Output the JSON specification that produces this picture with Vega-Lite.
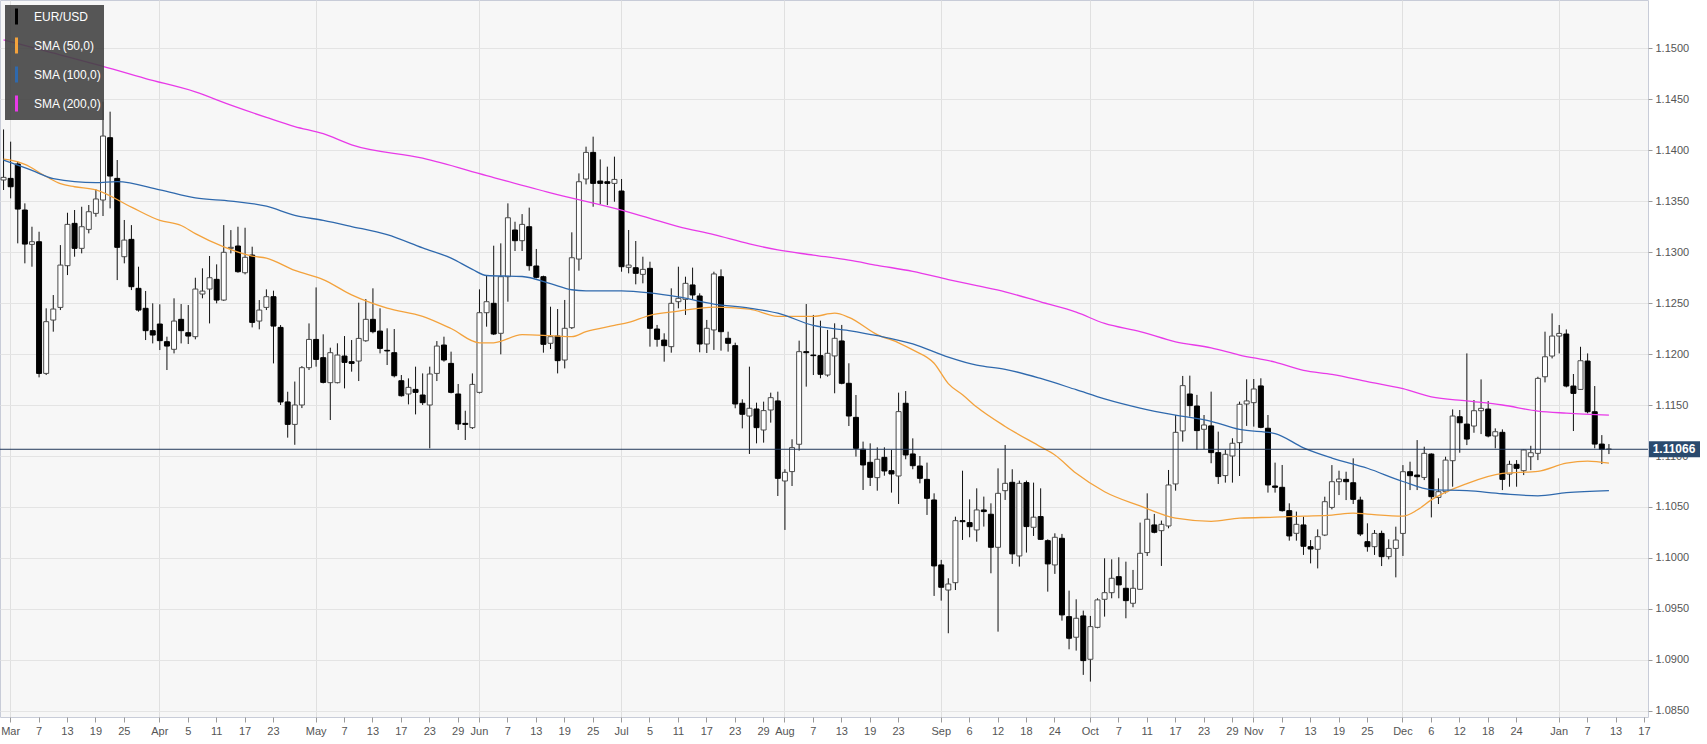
{
  "$schema": "https://vega.github.io/schema/vega-lite/v6.json",
  "width": 1648,
  "height": 717,
  "autosize": {"type": "none"},
  "padding": {"left": 0, "top": 0, "right": 59, "bottom": 27},
  "background": "#ffffff",
  "config": {
    "view": {"fill": "#f7f7f7", "stroke": "#c8ccd8", "strokeWidth": 1},
    "font": "Liberation Sans"
  },
  "datasets": {
    "candles": [
      {"d":"2019-02-28","o":1.13706,"h":1.14202,"l":1.13608,"c":1.13732},
      {"d":"2019-03-01","o":1.13722,"h":1.14082,"l":1.13526,"c":1.13640},
      {"d":"2019-03-04","o":1.13863,"h":1.13885,"l":1.13085,"c":1.13421},
      {"d":"2019-03-05","o":1.13412,"h":1.13477,"l":1.12889,"c":1.13078},
      {"d":"2019-03-06","o":1.13075,"h":1.13248,"l":1.12856,"c":1.13101},
      {"d":"2019-03-07","o":1.13101,"h":1.13199,"l":1.11771,"c":1.11810},
      {"d":"2019-03-08","o":1.11810,"h":1.12448,"l":1.11794,"c":1.12317},
      {"d":"2019-03-11","o":1.12333,"h":1.12578,"l":1.12219,"c":1.12441},
      {"d":"2019-03-12","o":1.12457,"h":1.13068,"l":1.12431,"c":1.12872},
      {"d":"2019-03-13","o":1.12866,"h":1.13385,"l":1.12774,"c":1.13271},
      {"d":"2019-03-14","o":1.13281,"h":1.13412,"l":1.12954,"c":1.13036},
      {"d":"2019-03-15","o":1.13036,"h":1.13444,"l":1.12987,"c":1.13248},
      {"d":"2019-03-18","o":1.13222,"h":1.13461,"l":1.13183,"c":1.13395},
      {"d":"2019-03-19","o":1.13379,"h":1.13614,"l":1.13346,"c":1.13520},
      {"d":"2019-03-20","o":1.13510,"h":1.14474,"l":1.13353,"c":1.14137},
      {"d":"2019-03-21","o":1.14121,"h":1.14376,"l":1.13428,"c":1.13745},
      {"d":"2019-03-22","o":1.13722,"h":1.13902,"l":1.12725,"c":1.13046},
      {"d":"2019-03-25","o":1.12954,"h":1.13314,"l":1.12889,"c":1.13117},
      {"d":"2019-03-26","o":1.13124,"h":1.13264,"l":1.12627,"c":1.12660},
      {"d":"2019-03-27","o":1.12644,"h":1.12856,"l":1.12415,"c":1.12431},
      {"d":"2019-03-28","o":1.12448,"h":1.12618,"l":1.12137,"c":1.12229},
      {"d":"2019-03-29","o":1.12229,"h":1.12497,"l":1.12104,"c":1.12186},
      {"d":"2019-04-01","o":1.12294,"h":1.12487,"l":1.12039,"c":1.12131},
      {"d":"2019-04-02","o":1.12121,"h":1.12170,"l":1.11843,"c":1.12078},
      {"d":"2019-04-03","o":1.12046,"h":1.12546,"l":1.12006,"c":1.12323},
      {"d":"2019-04-04","o":1.12340,"h":1.12490,"l":1.12104,"c":1.12229},
      {"d":"2019-04-05","o":1.12209,"h":1.12480,"l":1.12098,"c":1.12176},
      {"d":"2019-04-08","o":1.12170,"h":1.12748,"l":1.12144,"c":1.12637},
      {"d":"2019-04-09","o":1.12588,"h":1.12840,"l":1.12546,"c":1.12617},
      {"d":"2019-04-10","o":1.12637,"h":1.12961,"l":1.12300,"c":1.12748},
      {"d":"2019-04-11","o":1.12732,"h":1.12879,"l":1.12497,"c":1.12529},
      {"d":"2019-04-12","o":1.12529,"h":1.13264,"l":1.12520,"c":1.12997},
      {"d":"2019-04-15","o":1.13036,"h":1.13215,"l":1.12987,"c":1.13046},
      {"d":"2019-04-16","o":1.13059,"h":1.13248,"l":1.12797,"c":1.12807},
      {"d":"2019-04-17","o":1.12797,"h":1.13238,"l":1.12781,"c":1.12948},
      {"d":"2019-04-18","o":1.12970,"h":1.13052,"l":1.12261,"c":1.12310},
      {"d":"2019-04-19","o":1.12323,"h":1.12529,"l":1.12242,"c":1.12431},
      {"d":"2019-04-22","o":1.12457,"h":1.12634,"l":1.12431,"c":1.12562},
      {"d":"2019-04-23","o":1.12562,"h":1.12621,"l":1.11908,"c":1.12274},
      {"d":"2019-04-24","o":1.12261,"h":1.12284,"l":1.11500,"c":1.11530},
      {"d":"2019-04-25","o":1.11530,"h":1.11630,"l":1.11180,"c":1.11310},
      {"d":"2019-04-26","o":1.11310,"h":1.11730,"l":1.11110,"c":1.11500},
      {"d":"2019-04-29","o":1.11500,"h":1.11882,"l":1.11470,"c":1.11866},
      {"d":"2019-04-30","o":1.11866,"h":1.12300,"l":1.11843,"c":1.12143},
      {"d":"2019-05-01","o":1.12143,"h":1.12653,"l":1.11876,"c":1.11947},
      {"d":"2019-05-02","o":1.11964,"h":1.12193,"l":1.11712,"c":1.11722},
      {"d":"2019-05-03","o":1.11719,"h":1.12062,"l":1.11353,"c":1.12013},
      {"d":"2019-05-06","o":1.11719,"h":1.12105,"l":1.11712,"c":1.11990},
      {"d":"2019-05-07","o":1.11980,"h":1.12176,"l":1.11663,"c":1.11918},
      {"d":"2019-05-08","o":1.11925,"h":1.12137,"l":1.11827,"c":1.11908},
      {"d":"2019-05-09","o":1.11931,"h":1.12503,"l":1.11735,"c":1.12153},
      {"d":"2019-05-10","o":1.12130,"h":1.12539,"l":1.12120,"c":1.12340},
      {"d":"2019-05-13","o":1.12340,"h":1.12644,"l":1.12203,"c":1.12219},
      {"d":"2019-05-14","o":1.12225,"h":1.12448,"l":1.12006,"c":1.12055},
      {"d":"2019-05-15","o":1.12036,"h":1.12252,"l":1.11892,"c":1.12030},
      {"d":"2019-05-16","o":1.12013,"h":1.12245,"l":1.11771,"c":1.11787},
      {"d":"2019-05-17","o":1.11738,"h":1.11794,"l":1.11582,"c":1.11591},
      {"d":"2019-05-20","o":1.11608,"h":1.11761,"l":1.11506,"c":1.11673},
      {"d":"2019-05-21","o":1.11653,"h":1.11876,"l":1.11408,"c":1.11624},
      {"d":"2019-05-22","o":1.11598,"h":1.11810,"l":1.11500,"c":1.11523},
      {"d":"2019-05-23","o":1.11500,"h":1.11876,"l":1.11075,"c":1.11804},
      {"d":"2019-05-24","o":1.11810,"h":1.12127,"l":1.11735,"c":1.12078},
      {"d":"2019-05-27","o":1.12088,"h":1.12170,"l":1.11925,"c":1.11941},
      {"d":"2019-05-28","o":1.11908,"h":1.12023,"l":1.11614,"c":1.11624},
      {"d":"2019-05-29","o":1.11608,"h":1.11706,"l":1.11255,"c":1.11314},
      {"d":"2019-05-30","o":1.11320,"h":1.11444,"l":1.11157,"c":1.11310},
      {"d":"2019-05-31","o":1.11278,"h":1.11810,"l":1.11265,"c":1.11702},
      {"d":"2019-06-03","o":1.11624,"h":1.12634,"l":1.11614,"c":1.12405},
      {"d":"2019-06-04","o":1.12405,"h":1.12774,"l":1.12268,"c":1.12513},
      {"d":"2019-06-05","o":1.12497,"h":1.13062,"l":1.12186,"c":1.12196},
      {"d":"2019-06-06","o":1.12203,"h":1.13085,"l":1.11997,"c":1.12758},
      {"d":"2019-06-07","o":1.12758,"h":1.13477,"l":1.12513,"c":1.13336},
      {"d":"2019-06-10","o":1.13216,"h":1.13297,"l":1.13010,"c":1.13111},
      {"d":"2019-06-11","o":1.13111,"h":1.13372,"l":1.13010,"c":1.13271},
      {"d":"2019-06-12","o":1.13248,"h":1.13435,"l":1.12817,"c":1.12866},
      {"d":"2019-06-13","o":1.12863,"h":1.13030,"l":1.12742,"c":1.12752},
      {"d":"2019-06-14","o":1.12758,"h":1.12768,"l":1.12013,"c":1.12095},
      {"d":"2019-06-17","o":1.12105,"h":1.12464,"l":1.12049,"c":1.12170},
      {"d":"2019-06-18","o":1.12176,"h":1.12441,"l":1.11810,"c":1.11935},
      {"d":"2019-06-19","o":1.11941,"h":1.12530,"l":1.11859,"c":1.12252},
      {"d":"2019-06-20","o":1.12258,"h":1.13193,"l":1.12245,"c":1.12944},
      {"d":"2019-06-21","o":1.12931,"h":1.13771,"l":1.12817,"c":1.13689},
      {"d":"2019-06-24","o":1.13716,"h":1.14033,"l":1.13663,"c":1.13977},
      {"d":"2019-06-25","o":1.13977,"h":1.14131,"l":1.13444,"c":1.13673},
      {"d":"2019-06-26","o":1.13696,"h":1.13908,"l":1.13470,"c":1.13673},
      {"d":"2019-06-27","o":1.13689,"h":1.13837,"l":1.13460,"c":1.13673},
      {"d":"2019-06-28","o":1.13673,"h":1.13935,"l":1.13493,"c":1.13712},
      {"d":"2019-07-01","o":1.13598,"h":1.13716,"l":1.12807,"c":1.12856},
      {"d":"2019-07-02","o":1.12850,"h":1.13216,"l":1.12791,"c":1.12872},
      {"d":"2019-07-03","o":1.12846,"h":1.13108,"l":1.12683,"c":1.12791},
      {"d":"2019-07-04","o":1.12781,"h":1.12954,"l":1.12693,"c":1.12830},
      {"d":"2019-07-05","o":1.12840,"h":1.12905,"l":1.12072,"c":1.12252},
      {"d":"2019-07-08","o":1.12245,"h":1.12285,"l":1.12072,"c":1.12144},
      {"d":"2019-07-09","o":1.12137,"h":1.12203,"l":1.11925,"c":1.12082},
      {"d":"2019-07-10","o":1.12072,"h":1.12644,"l":1.12013,"c":1.12497},
      {"d":"2019-07-11","o":1.12513,"h":1.12856,"l":1.12448,"c":1.12546},
      {"d":"2019-07-12","o":1.12536,"h":1.12758,"l":1.12383,"c":1.12693},
      {"d":"2019-07-15","o":1.12677,"h":1.12847,"l":1.12536,"c":1.12579},
      {"d":"2019-07-16","o":1.12569,"h":1.12595,"l":1.12017,"c":1.12098},
      {"d":"2019-07-17","o":1.12098,"h":1.12334,"l":1.12010,"c":1.12252},
      {"d":"2019-07-18","o":1.12236,"h":1.12807,"l":1.12040,"c":1.12785},
      {"d":"2019-07-19","o":1.12758,"h":1.12830,"l":1.12033,"c":1.12219},
      {"d":"2019-07-22","o":1.12154,"h":1.12219,"l":1.12023,"c":1.12105},
      {"d":"2019-07-23","o":1.12082,"h":1.12111,"l":1.11468,"c":1.11510},
      {"d":"2019-07-24","o":1.11517,"h":1.11556,"l":1.11271,"c":1.11409},
      {"d":"2019-07-25","o":1.11392,"h":1.11876,"l":1.11020,"c":1.11468},
      {"d":"2019-07-26","o":1.11461,"h":1.11523,"l":1.11124,"c":1.11278},
      {"d":"2019-07-29","o":1.11255,"h":1.11533,"l":1.11131,"c":1.11445},
      {"d":"2019-07-30","o":1.11451,"h":1.11621,"l":1.11327,"c":1.11572},
      {"d":"2019-07-31","o":1.11540,"h":1.11631,"l":1.10608,"c":1.10781},
      {"d":"2019-08-01","o":1.10755,"h":1.10870,"l":1.10275,"c":1.10840},
      {"d":"2019-08-02","o":1.10847,"h":1.11164,"l":1.10706,"c":1.11082},
      {"d":"2019-08-05","o":1.11115,"h":1.12131,"l":1.11053,"c":1.12023},
      {"d":"2019-08-06","o":1.12023,"h":1.12490,"l":1.11680,"c":1.12013},
      {"d":"2019-08-07","o":1.11990,"h":1.12383,"l":1.11794,"c":1.11984},
      {"d":"2019-08-08","o":1.11984,"h":1.12327,"l":1.11762,"c":1.11801},
      {"d":"2019-08-09","o":1.11794,"h":1.12236,"l":1.11778,"c":1.12007},
      {"d":"2019-08-12","o":1.11981,"h":1.12301,"l":1.11615,"c":1.12154},
      {"d":"2019-08-13","o":1.12128,"h":1.12285,"l":1.11703,"c":1.11713},
      {"d":"2019-08-14","o":1.11713,"h":1.11909,"l":1.11294,"c":1.11392},
      {"d":"2019-08-15","o":1.11379,"h":1.11598,"l":1.10994,"c":1.11075},
      {"d":"2019-08-16","o":1.11066,"h":1.11141,"l":1.10667,"c":1.10912},
      {"d":"2019-08-19","o":1.10938,"h":1.11124,"l":1.10706,"c":1.10791},
      {"d":"2019-08-20","o":1.10788,"h":1.11085,"l":1.10660,"c":1.10968},
      {"d":"2019-08-21","o":1.10987,"h":1.11085,"l":1.10807,"c":1.10853},
      {"d":"2019-08-22","o":1.10856,"h":1.11059,"l":1.10641,"c":1.10824},
      {"d":"2019-08-23","o":1.10804,"h":1.11621,"l":1.10530,"c":1.11435},
      {"d":"2019-08-26","o":1.11517,"h":1.11637,"l":1.10968,"c":1.11010},
      {"d":"2019-08-27","o":1.11020,"h":1.11173,"l":1.10870,"c":1.10905},
      {"d":"2019-08-28","o":1.10902,"h":1.11000,"l":1.10732,"c":1.10781},
      {"d":"2019-08-29","o":1.10771,"h":1.10935,"l":1.10422,"c":1.10585},
      {"d":"2019-08-30","o":1.10569,"h":1.10634,"l":1.09628,"c":1.09922},
      {"d":"2019-09-02","o":1.09932,"h":1.09981,"l":1.09582,"c":1.09713},
      {"d":"2019-09-03","o":1.09686,"h":1.09801,"l":1.09262,"c":1.09745},
      {"d":"2019-09-04","o":1.09758,"h":1.10405,"l":1.09686,"c":1.10366},
      {"d":"2019-09-05","o":1.10366,"h":1.10856,"l":1.10177,"c":1.10356},
      {"d":"2019-09-06","o":1.10347,"h":1.10575,"l":1.10203,"c":1.10307},
      {"d":"2019-09-09","o":1.10275,"h":1.10683,"l":1.10160,"c":1.10471},
      {"d":"2019-09-10","o":1.10471,"h":1.10602,"l":1.10308,"c":1.10455},
      {"d":"2019-09-11","o":1.10429,"h":1.10536,"l":1.09850,"c":1.10105},
      {"d":"2019-09-12","o":1.10105,"h":1.10879,"l":1.09278,"c":1.10634},
      {"d":"2019-09-13","o":1.10660,"h":1.11108,"l":1.10569,"c":1.10732},
      {"d":"2019-09-16","o":1.10742,"h":1.10870,"l":1.09942,"c":1.10040},
      {"d":"2019-09-17","o":1.10020,"h":1.10759,"l":1.09916,"c":1.10732},
      {"d":"2019-09-18","o":1.10739,"h":1.10759,"l":1.10053,"c":1.10308},
      {"d":"2019-09-19","o":1.10301,"h":1.10739,"l":1.10216,"c":1.10400},
      {"d":"2019-09-20","o":1.10406,"h":1.10683,"l":1.10177,"c":1.10183},
      {"d":"2019-09-23","o":1.10170,"h":1.10183,"l":1.09670,"c":1.09942},
      {"d":"2019-09-24","o":1.09932,"h":1.10242,"l":1.09844,"c":1.10203},
      {"d":"2019-09-25","o":1.10193,"h":1.10236,"l":1.09386,"c":1.09442},
      {"d":"2019-09-26","o":1.09425,"h":1.09680,"l":1.09105,"c":1.09213},
      {"d":"2019-09-27","o":1.09223,"h":1.09595,"l":1.09092,"c":1.09409},
      {"d":"2019-09-30","o":1.09432,"h":1.09484,"l":1.08854,"c":1.08994},
      {"d":"2019-10-01","o":1.09007,"h":1.09432,"l":1.08788,"c":1.09327},
      {"d":"2019-10-02","o":1.09320,"h":1.09605,"l":1.09311,"c":1.09589},
      {"d":"2019-10-03","o":1.09595,"h":1.09997,"l":1.09425,"c":1.09660},
      {"d":"2019-10-04","o":1.09660,"h":1.09987,"l":1.09605,"c":1.09801},
      {"d":"2019-10-07","o":1.09817,"h":1.10007,"l":1.09605,"c":1.09736},
      {"d":"2019-10-08","o":1.09703,"h":1.09964,"l":1.09409,"c":1.09582},
      {"d":"2019-10-09","o":1.09556,"h":1.09883,"l":1.09517,"c":1.09703},
      {"d":"2019-10-10","o":1.09693,"h":1.10347,"l":1.09687,"c":1.10046},
      {"d":"2019-10-11","o":1.10053,"h":1.10634,"l":1.10020,"c":1.10380},
      {"d":"2019-10-14","o":1.10324,"h":1.10432,"l":1.10242,"c":1.10252},
      {"d":"2019-10-15","o":1.10268,"h":1.10367,"l":1.09922,"c":1.10330},
      {"d":"2019-10-16","o":1.10314,"h":1.10863,"l":1.10291,"c":1.10716},
      {"d":"2019-10-17","o":1.10726,"h":1.11402,"l":1.10660,"c":1.11232},
      {"d":"2019-10-18","o":1.11246,"h":1.11785,"l":1.11141,"c":1.11690},
      {"d":"2019-10-21","o":1.11608,"h":1.11788,"l":1.11386,"c":1.11494},
      {"d":"2019-10-22","o":1.11490,"h":1.11599,"l":1.11060,"c":1.11249},
      {"d":"2019-10-23","o":1.11262,"h":1.11402,"l":1.11066,"c":1.11304},
      {"d":"2019-10-24","o":1.11295,"h":1.11631,"l":1.10929,"c":1.11033},
      {"d":"2019-10-25","o":1.11033,"h":1.11239,"l":1.10726,"c":1.10798},
      {"d":"2019-10-28","o":1.10808,"h":1.11060,"l":1.10739,"c":1.11017},
      {"d":"2019-10-29","o":1.11000,"h":1.11174,"l":1.10739,"c":1.11125},
      {"d":"2019-10-30","o":1.11131,"h":1.11533,"l":1.10804,"c":1.11507},
      {"d":"2019-10-31","o":1.11510,"h":1.11752,"l":1.11295,"c":1.11540},
      {"d":"2019-11-01","o":1.11523,"h":1.11755,"l":1.11288,"c":1.11657},
      {"d":"2019-11-04","o":1.11687,"h":1.11762,"l":1.11272,"c":1.11281},
      {"d":"2019-11-05","o":1.11272,"h":1.11402,"l":1.10641,"c":1.10716},
      {"d":"2019-11-06","o":1.10706,"h":1.10935,"l":1.10641,"c":1.10693},
      {"d":"2019-11-07","o":1.10693,"h":1.10912,"l":1.10455,"c":1.10464},
      {"d":"2019-11-08","o":1.10464,"h":1.10536,"l":1.10170,"c":1.10216},
      {"d":"2019-11-11","o":1.10242,"h":1.10455,"l":1.10170,"c":1.10330},
      {"d":"2019-11-12","o":1.10324,"h":1.10405,"l":1.10030,"c":1.10115},
      {"d":"2019-11-13","o":1.10111,"h":1.10176,"l":1.09947,"c":1.10088},
      {"d":"2019-11-14","o":1.10085,"h":1.10281,"l":1.09898,"c":1.10209},
      {"d":"2019-11-15","o":1.10225,"h":1.10601,"l":1.10215,"c":1.10552},
      {"d":"2019-11-18","o":1.10496,"h":1.10911,"l":1.10477,"c":1.10748},
      {"d":"2019-11-19","o":1.10748,"h":1.10856,"l":1.10617,"c":1.10774},
      {"d":"2019-11-20","o":1.10771,"h":1.10846,"l":1.10568,"c":1.10748},
      {"d":"2019-11-21","o":1.10738,"h":1.10977,"l":1.10529,"c":1.10575},
      {"d":"2019-11-22","o":1.10568,"h":1.10601,"l":1.10215,"c":1.10235},
      {"d":"2019-11-25","o":1.10160,"h":1.10340,"l":1.10062,"c":1.10111},
      {"d":"2019-11-26","o":1.10111,"h":1.10274,"l":1.10030,"c":1.10241},
      {"d":"2019-11-27","o":1.10241,"h":1.10268,"l":1.09921,"c":1.10013},
      {"d":"2019-11-28","o":1.10013,"h":1.10183,"l":1.09987,"c":1.10094},
      {"d":"2019-11-29","o":1.10094,"h":1.10307,"l":1.09810,"c":1.10176},
      {"d":"2019-12-02","o":1.10241,"h":1.10911,"l":1.10020,"c":1.10846},
      {"d":"2019-12-03","o":1.10846,"h":1.10944,"l":1.10666,"c":1.10807},
      {"d":"2019-12-04","o":1.10813,"h":1.11156,"l":1.10666,"c":1.10797},
      {"d":"2019-12-05","o":1.10790,"h":1.11091,"l":1.10764,"c":1.11026},
      {"d":"2019-12-06","o":1.11019,"h":1.11026,"l":1.10398,"c":1.10601},
      {"d":"2019-12-09","o":1.10594,"h":1.10781,"l":1.10529,"c":1.10650},
      {"d":"2019-12-10","o":1.10650,"h":1.10993,"l":1.10633,"c":1.10960},
      {"d":"2019-12-11","o":1.10954,"h":1.11457,"l":1.10699,"c":1.11392},
      {"d":"2019-12-12","o":1.11385,"h":1.11451,"l":1.11032,"c":1.11326},
      {"d":"2019-12-13","o":1.11313,"h":1.12006,"l":1.11107,"c":1.11166},
      {"d":"2019-12-16","o":1.11294,"h":1.11549,"l":1.11228,"c":1.11444},
      {"d":"2019-12-17","o":1.11444,"h":1.11751,"l":1.11215,"c":1.11467},
      {"d":"2019-12-18","o":1.11460,"h":1.11539,"l":1.11183,"c":1.11196},
      {"d":"2019-12-19","o":1.11196,"h":1.11271,"l":1.11075,"c":1.11238},
      {"d":"2019-12-20","o":1.11232,"h":1.11261,"l":1.10666,"c":1.10771},
      {"d":"2019-12-23","o":1.10823,"h":1.10954,"l":1.10699,"c":1.10918},
      {"d":"2019-12-24","o":1.10918,"h":1.10960,"l":1.10699,"c":1.10879},
      {"d":"2019-12-25","o":1.10856,"h":1.11065,"l":1.10813,"c":1.11059},
      {"d":"2019-12-26","o":1.10993,"h":1.11100,"l":1.10862,"c":1.11032},
      {"d":"2019-12-27","o":1.11026,"h":1.11777,"l":1.10960,"c":1.11761},
      {"d":"2019-12-30","o":1.11777,"h":1.12219,"l":1.11722,"c":1.11973},
      {"d":"2019-12-31","o":1.11980,"h":1.12398,"l":1.11957,"c":1.12176},
      {"d":"2020-01-01","o":1.12176,"h":1.12284,"l":1.12006,"c":1.12202},
      {"d":"2020-01-02","o":1.12196,"h":1.12241,"l":1.11673,"c":1.11686},
      {"d":"2020-01-03","o":1.11686,"h":1.11804,"l":1.11245,"c":1.11614},
      {"d":"2020-01-06","o":1.11653,"h":1.12071,"l":1.11647,"c":1.11934},
      {"d":"2020-01-07","o":1.11931,"h":1.12006,"l":1.11418,"c":1.11434},
      {"d":"2020-01-08","o":1.11434,"h":1.11686,"l":1.11075,"c":1.11117},
      {"d":"2020-01-09","o":1.11117,"h":1.11205,"l":1.10921,"c":1.11065},
      {"d":"2020-01-10","o":1.11066,"h":1.11117,"l":1.11019,"c":1.11068},
      {"d":"2020-01-13"},
      {"d":"2020-01-14"},
      {"d":"2020-01-15"},
      {"d":"2020-01-16"},
      {"d":"2020-01-17"}
    ],
    "sma": [
      {"d":"2019-02-28","s":"SMA (50,0)","v":1.1391},
      {"d":"2019-03-01","s":"SMA (50,0)","v":1.1390},
      {"d":"2019-03-05","s":"SMA (50,0)","v":1.1386},
      {"d":"2019-03-08","s":"SMA (50,0)","v":1.1374},
      {"d":"2019-03-12","s":"SMA (50,0)","v":1.1367},
      {"d":"2019-03-14","s":"SMA (50,0)","v":1.1364},
      {"d":"2019-03-19","s":"SMA (50,0)","v":1.1361},
      {"d":"2019-03-26","s":"SMA (50,0)","v":1.1344},
      {"d":"2019-04-01","s":"SMA (50,0)","v":1.1331},
      {"d":"2019-04-04","s":"SMA (50,0)","v":1.1326},
      {"d":"2019-04-08","s":"SMA (50,0)","v":1.1318},
      {"d":"2019-04-12","s":"SMA (50,0)","v":1.1305},
      {"d":"2019-04-18","s":"SMA (50,0)","v":1.1296},
      {"d":"2019-04-22","s":"SMA (50,0)","v":1.1294},
      {"d":"2019-04-26","s":"SMA (50,0)","v":1.1282},
      {"d":"2019-05-02","s":"SMA (50,0)","v":1.1273},
      {"d":"2019-05-08","s":"SMA (50,0)","v":1.1258},
      {"d":"2019-05-15","s":"SMA (50,0)","v":1.1245},
      {"d":"2019-05-22","s":"SMA (50,0)","v":1.1237},
      {"d":"2019-05-28","s":"SMA (50,0)","v":1.1225},
      {"d":"2019-06-03","s":"SMA (50,0)","v":1.1211},
      {"d":"2019-06-05","s":"SMA (50,0)","v":1.1211},
      {"d":"2019-06-11","s":"SMA (50,0)","v":1.1219},
      {"d":"2019-06-17","s":"SMA (50,0)","v":1.1218},
      {"d":"2019-06-20","s":"SMA (50,0)","v":1.1217},
      {"d":"2019-06-24","s":"SMA (50,0)","v":1.1222},
      {"d":"2019-06-28","s":"SMA (50,0)","v":1.1228},
      {"d":"2019-07-02","s":"SMA (50,0)","v":1.1231},
      {"d":"2019-07-05","s":"SMA (50,0)","v":1.1238},
      {"d":"2019-07-11","s":"SMA (50,0)","v":1.1242},
      {"d":"2019-07-18","s":"SMA (50,0)","v":1.1246},
      {"d":"2019-07-25","s":"SMA (50,0)","v":1.1244},
      {"d":"2019-07-31","s":"SMA (50,0)","v":1.1237},
      {"d":"2019-08-07","s":"SMA (50,0)","v":1.1237},
      {"d":"2019-08-12","s":"SMA (50,0)","v":1.1240},
      {"d":"2019-08-14","s":"SMA (50,0)","v":1.1236},
      {"d":"2019-08-20","s":"SMA (50,0)","v":1.1219},
      {"d":"2019-08-23","s":"SMA (50,0)","v":1.1211},
      {"d":"2019-08-27","s":"SMA (50,0)","v":1.1204},
      {"d":"2019-08-30","s":"SMA (50,0)","v":1.1191},
      {"d":"2019-09-03","s":"SMA (50,0)","v":1.1171},
      {"d":"2019-09-05","s":"SMA (50,0)","v":1.1160},
      {"d":"2019-09-09","s":"SMA (50,0)","v":1.1148},
      {"d":"2019-09-13","s":"SMA (50,0)","v":1.1129},
      {"d":"2019-09-20","s":"SMA (50,0)","v":1.1109},
      {"d":"2019-09-24","s":"SMA (50,0)","v":1.1101},
      {"d":"2019-09-27","s":"SMA (50,0)","v":1.1083},
      {"d":"2019-10-03","s":"SMA (50,0)","v":1.1065},
      {"d":"2019-10-10","s":"SMA (50,0)","v":1.1051},
      {"d":"2019-10-17","s":"SMA (50,0)","v":1.1039},
      {"d":"2019-10-24","s":"SMA (50,0)","v":1.1036},
      {"d":"2019-10-30","s":"SMA (50,0)","v":1.1039},
      {"d":"2019-11-06","s":"SMA (50,0)","v":1.1040},
      {"d":"2019-11-12","s":"SMA (50,0)","v":1.1041},
      {"d":"2019-11-18","s":"SMA (50,0)","v":1.1042},
      {"d":"2019-11-21","s":"SMA (50,0)","v":1.1044},
      {"d":"2019-11-25","s":"SMA (50,0)","v":1.1043},
      {"d":"2019-12-02","s":"SMA (50,0)","v":1.1041},
      {"d":"2019-12-04","s":"SMA (50,0)","v":1.1047},
      {"d":"2019-12-06","s":"SMA (50,0)","v":1.1057},
      {"d":"2019-12-13","s":"SMA (50,0)","v":1.1073},
      {"d":"2019-12-20","s":"SMA (50,0)","v":1.1083},
      {"d":"2019-12-27","s":"SMA (50,0)","v":1.1085},
      {"d":"2020-01-02","s":"SMA (50,0)","v":1.1093},
      {"d":"2020-01-07","s":"SMA (50,0)","v":1.1095},
      {"d":"2020-01-10","s":"SMA (50,0)","v":1.1093},
      {"d":"2019-02-28","s":"SMA (100,0)","v":1.1390},
      {"d":"2019-03-06","s":"SMA (100,0)","v":1.1380},
      {"d":"2019-03-11","s":"SMA (100,0)","v":1.1372},
      {"d":"2019-03-19","s":"SMA (100,0)","v":1.1368},
      {"d":"2019-03-22","s":"SMA (100,0)","v":1.1369},
      {"d":"2019-04-01","s":"SMA (100,0)","v":1.1361},
      {"d":"2019-04-08","s":"SMA (100,0)","v":1.1353},
      {"d":"2019-04-15","s":"SMA (100,0)","v":1.1350},
      {"d":"2019-04-22","s":"SMA (100,0)","v":1.1345},
      {"d":"2019-04-26","s":"SMA (100,0)","v":1.1336},
      {"d":"2019-05-02","s":"SMA (100,0)","v":1.1331},
      {"d":"2019-05-08","s":"SMA (100,0)","v":1.1325},
      {"d":"2019-05-15","s":"SMA (100,0)","v":1.1317},
      {"d":"2019-05-22","s":"SMA (100,0)","v":1.1304},
      {"d":"2019-05-28","s":"SMA (100,0)","v":1.1294},
      {"d":"2019-05-31","s":"SMA (100,0)","v":1.1283},
      {"d":"2019-06-04","s":"SMA (100,0)","v":1.1277},
      {"d":"2019-06-11","s":"SMA (100,0)","v":1.1276},
      {"d":"2019-06-17","s":"SMA (100,0)","v":1.1269},
      {"d":"2019-06-20","s":"SMA (100,0)","v":1.1263},
      {"d":"2019-06-24","s":"SMA (100,0)","v":1.1262},
      {"d":"2019-07-01","s":"SMA (100,0)","v":1.1262},
      {"d":"2019-07-05","s":"SMA (100,0)","v":1.1260},
      {"d":"2019-07-11","s":"SMA (100,0)","v":1.1256},
      {"d":"2019-07-18","s":"SMA (100,0)","v":1.1249},
      {"d":"2019-07-25","s":"SMA (100,0)","v":1.1245},
      {"d":"2019-07-31","s":"SMA (100,0)","v":1.1240},
      {"d":"2019-08-07","s":"SMA (100,0)","v":1.1228},
      {"d":"2019-08-14","s":"SMA (100,0)","v":1.1223},
      {"d":"2019-08-20","s":"SMA (100,0)","v":1.1218},
      {"d":"2019-08-27","s":"SMA (100,0)","v":1.1210},
      {"d":"2019-09-03","s":"SMA (100,0)","v":1.1197},
      {"d":"2019-09-09","s":"SMA (100,0)","v":1.1189},
      {"d":"2019-09-13","s":"SMA (100,0)","v":1.1185},
      {"d":"2019-09-20","s":"SMA (100,0)","v":1.1176},
      {"d":"2019-09-27","s":"SMA (100,0)","v":1.1165},
      {"d":"2019-10-03","s":"SMA (100,0)","v":1.1156},
      {"d":"2019-10-10","s":"SMA (100,0)","v":1.1147},
      {"d":"2019-10-17","s":"SMA (100,0)","v":1.1140},
      {"d":"2019-10-24","s":"SMA (100,0)","v":1.1134},
      {"d":"2019-10-30","s":"SMA (100,0)","v":1.1126},
      {"d":"2019-11-06","s":"SMA (100,0)","v":1.1122},
      {"d":"2019-11-12","s":"SMA (100,0)","v":1.1108},
      {"d":"2019-11-18","s":"SMA (100,0)","v":1.1098},
      {"d":"2019-11-25","s":"SMA (100,0)","v":1.1088},
      {"d":"2019-12-02","s":"SMA (100,0)","v":1.1075},
      {"d":"2019-12-06","s":"SMA (100,0)","v":1.1067},
      {"d":"2019-12-13","s":"SMA (100,0)","v":1.1066},
      {"d":"2019-12-20","s":"SMA (100,0)","v":1.1063},
      {"d":"2019-12-27","s":"SMA (100,0)","v":1.1061},
      {"d":"2020-01-02","s":"SMA (100,0)","v":1.1064},
      {"d":"2020-01-10","s":"SMA (100,0)","v":1.1066},
      {"d":"2019-02-28","s":"SMA (200,0)","v":1.1508},
      {"d":"2019-03-08","s":"SMA (200,0)","v":1.1497},
      {"d":"2019-03-19","s":"SMA (200,0)","v":1.1484},
      {"d":"2019-03-28","s":"SMA (200,0)","v":1.1470},
      {"d":"2019-04-08","s":"SMA (200,0)","v":1.1457},
      {"d":"2019-04-15","s":"SMA (200,0)","v":1.1444},
      {"d":"2019-04-22","s":"SMA (200,0)","v":1.1432},
      {"d":"2019-04-26","s":"SMA (200,0)","v":1.1423},
      {"d":"2019-05-02","s":"SMA (200,0)","v":1.1416},
      {"d":"2019-05-08","s":"SMA (200,0)","v":1.1405},
      {"d":"2019-05-22","s":"SMA (200,0)","v":1.1392},
      {"d":"2019-06-04","s":"SMA (200,0)","v":1.1375},
      {"d":"2019-06-17","s":"SMA (200,0)","v":1.1358},
      {"d":"2019-07-01","s":"SMA (200,0)","v":1.1341},
      {"d":"2019-07-05","s":"SMA (200,0)","v":1.1333},
      {"d":"2019-07-11","s":"SMA (200,0)","v":1.1325},
      {"d":"2019-07-18","s":"SMA (200,0)","v":1.1317},
      {"d":"2019-07-25","s":"SMA (200,0)","v":1.1308},
      {"d":"2019-07-31","s":"SMA (200,0)","v":1.1302},
      {"d":"2019-08-07","s":"SMA (200,0)","v":1.1297},
      {"d":"2019-08-14","s":"SMA (200,0)","v":1.1292},
      {"d":"2019-08-20","s":"SMA (200,0)","v":1.1287},
      {"d":"2019-08-27","s":"SMA (200,0)","v":1.1281},
      {"d":"2019-09-03","s":"SMA (200,0)","v":1.1273},
      {"d":"2019-09-09","s":"SMA (200,0)","v":1.1267},
      {"d":"2019-09-13","s":"SMA (200,0)","v":1.1261},
      {"d":"2019-09-20","s":"SMA (200,0)","v":1.1251},
      {"d":"2019-09-27","s":"SMA (200,0)","v":1.1241},
      {"d":"2019-10-03","s":"SMA (200,0)","v":1.1230},
      {"d":"2019-10-10","s":"SMA (200,0)","v":1.1222},
      {"d":"2019-10-17","s":"SMA (200,0)","v":1.1212},
      {"d":"2019-10-24","s":"SMA (200,0)","v":1.1206},
      {"d":"2019-10-30","s":"SMA (200,0)","v":1.1199},
      {"d":"2019-11-06","s":"SMA (200,0)","v":1.1192},
      {"d":"2019-11-12","s":"SMA (200,0)","v":1.1184},
      {"d":"2019-11-18","s":"SMA (200,0)","v":1.1180},
      {"d":"2019-11-25","s":"SMA (200,0)","v":1.1173},
      {"d":"2019-12-02","s":"SMA (200,0)","v":1.1166},
      {"d":"2019-12-06","s":"SMA (200,0)","v":1.1158},
      {"d":"2019-12-13","s":"SMA (200,0)","v":1.1154},
      {"d":"2019-12-20","s":"SMA (200,0)","v":1.1150},
      {"d":"2019-12-27","s":"SMA (200,0)","v":1.1144},
      {"d":"2020-01-02","s":"SMA (200,0)","v":1.1142},
      {"d":"2020-01-10","s":"SMA (200,0)","v":1.1140}
    ],
    "last": [{"price": 1.11066, "label": "1.11066"}]
  },
  "layer": [
    {
      "data": {"name": "candles"},
      "mark": {"type": "text", "opacity": 0},
      "encoding": {
        "x": {
          "field": "d",
          "type": "ordinal",
          "title": null,
          "scale": {"type": "band", "paddingInner": 0, "paddingOuter": 0},
          "axis": {
            "values": ["2019-03-01","2019-03-07","2019-03-13","2019-03-19","2019-03-25","2019-04-01","2019-04-05","2019-04-11","2019-04-17","2019-04-23","2019-05-01","2019-05-07","2019-05-13","2019-05-17","2019-05-23","2019-05-29","2019-06-03","2019-06-07","2019-06-13","2019-06-19","2019-06-25","2019-07-01","2019-07-05","2019-07-11","2019-07-17","2019-07-23","2019-07-29","2019-08-01","2019-08-07","2019-08-13","2019-08-19","2019-08-23","2019-09-02","2019-09-06","2019-09-12","2019-09-18","2019-09-24","2019-10-01","2019-10-07","2019-10-11","2019-10-17","2019-10-23","2019-10-29","2019-11-01","2019-11-07","2019-11-13","2019-11-19","2019-11-25","2019-12-02","2019-12-06","2019-12-12","2019-12-18","2019-12-24","2020-01-01","2020-01-07","2020-01-13","2020-01-17"],
            "labelExpr": "toNumber(substring(datum.value, 8, 10)) <= 3 ? ['Jan','Feb','Mar','Apr','May','Jun','Jul','Aug','Sep','Oct','Nov','Dec'][toNumber(substring(datum.value, 5, 7)) - 1] : '' + toNumber(substring(datum.value, 8, 10))",
            "labelAngle": 0,
            "labelOverlap": false,
            "labelBound": false,
            "labelFlush": false,
            "labelColor": "#555555",
            "labelFontSize": 11,
            "labelPadding": 3,
            "domain": false,
            "ticks": true,
            "tickSize": 5,
            "tickColor": "#9a9a9a",
            "bandPosition": 0.5,
            "grid": true,
            "gridColor": {"condition": {"test": "toNumber(substring(datum.value, 8, 10)) <= 3", "value": "#e0e0e0"}, "value": "rgba(0,0,0,0)"}
          }
        },
        "text": {"value": ""}
      }
    },
    {
      "data": {"name": "candles"},
      "mark": {"type": "rule", "color": "#111111", "strokeWidth": 1},
      "encoding": {
        "x": {"field": "d", "type": "ordinal", "bandPosition": 0.5},
        "y": {
          "field": "l",
          "type": "quantitative",
          "title": null,
          "scale": {"domain": [1.08441, 1.15471], "nice": false, "zero": false},
          "axis": {
            "orient": "right",
            "values": [1.085,1.0875,1.09,1.0925,1.095,1.0975,1.1,1.1025,1.105,1.1075,1.11,1.1125,1.115,1.1175,1.12,1.1225,1.125,1.1275,1.13,1.1325,1.135,1.1375,1.14,1.1425,1.145,1.1475,1.15,1.1525],
            "format": ".4f",
            "grid": true,
            "gridColor": "#e4e4e4",
            "domain": false,
            "tickColor": "#9a9a9a",
            "tickSize": 4,
            "labelColor": "#555555",
            "labelFontSize": 11,
            "labelPadding": 3,
            "labelOverlap": false,
            "labelFlush": false,
            "labelBound": false
          }
        },
        "y2": {"field": "h"}
      }
    },
    {
      "data": {"name": "candles"},
      "mark": {"type": "bar", "width": {"band": 0.7}, "strokeWidth": 1},
      "encoding": {
        "x": {"field": "d", "type": "ordinal"},
        "y": {"field": "o", "type": "quantitative"},
        "y2": {"field": "c"},
        "fill": {"condition": {"test": "datum.c >= datum.o", "value": "#ffffff"}, "value": "#000000"},
        "stroke": {"condition": {"test": "datum.c >= datum.o", "value": "#4a4a4a"}, "value": "#000000"}
      }
    },
    {
      "data": {"name": "sma"},
      "mark": {"type": "line", "interpolate": "monotone", "strokeWidth": 1.3},
      "encoding": {
        "x": {"field": "d", "type": "ordinal", "bandPosition": 0.5},
        "y": {"field": "v", "type": "quantitative"},
        "color": {
          "field": "s",
          "type": "nominal",
          "scale": {
            "domain": ["EUR/USD", "SMA (50,0)", "SMA (100,0)", "SMA (200,0)"],
            "range": ["#000000", "#f3a23c", "#2f69ad", "#e83ae8"]
          },
          "legend": {
            "orient": "top-left",
            "offset": 5,
            "title": null,
            "fillColor": "rgba(68,68,68,0.9)",
            "padding": 2,
            "labelColor": "#ffffff",
            "labelFont": "Liberation Sans",
            "labelFontSize": 12,
            "labelOffset": 8,
            "symbolType": "M0,-1L0,1",
            "symbolSize": 256,
            "symbolStrokeWidth": 3,
            "rowPadding": 0
          }
        }
      }
    },
    {
      "data": {"name": "last"},
      "mark": {"type": "rule", "color": "#22395a", "strokeWidth": 1},
      "encoding": {
        "y": {"field": "price", "type": "quantitative"}
      }
    },
    {
      "data": {"name": "last"},
      "mark": {"type": "rect", "color": "#2a4a6e", "x": {"expr": "width + 1"}, "x2": {"expr": "width + 52"}, "clip": false},
      "encoding": {
        "y": {"datum": 1.11144, "type": "quantitative"},
        "y2": {"datum": 1.10988}
      }
    },
    {
      "data": {"name": "last"},
      "mark": {"type": "text", "color": "#ffffff", "fontWeight": "bold", "fontSize": 12, "align": "center", "baseline": "middle", "x": {"expr": "width + 26"}, "clip": false},
      "encoding": {
        "y": {"field": "price", "type": "quantitative"},
        "text": {"field": "label"}
      }
    }
  ]
}
